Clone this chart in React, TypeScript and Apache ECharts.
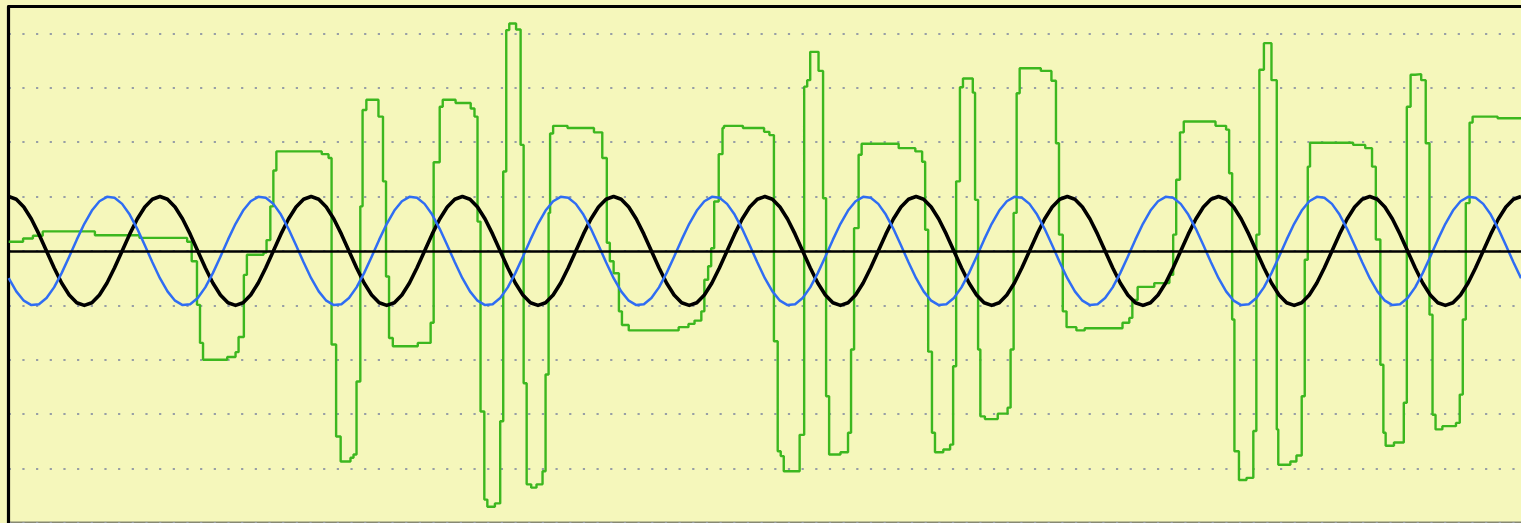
import React, { useEffect, useRef } from "react";
import * as echarts from "echarts";

// Time axis in milliseconds (10 cycles of a 50 Hz signal), 1 ms sampling
const SAMPLE_MS = [
  0, 1, 2, 3, 4, 5, 6, 7, 8, 9, 10, 11, 12, 13, 14, 15, 16, 17, 18, 19,
  20, 21, 22, 23, 24, 25, 26, 27, 28, 29, 30, 31, 32, 33, 34, 35, 36, 37, 38, 39,
  40, 41, 42, 43, 44, 45, 46, 47, 48, 49, 50, 51, 52, 53, 54, 55, 56, 57, 58, 59,
  60, 61, 62, 63, 64, 65, 66, 67, 68, 69, 70, 71, 72, 73, 74, 75, 76, 77, 78, 79,
  80, 81, 82, 83, 84, 85, 86, 87, 88, 89, 90, 91, 92, 93, 94, 95, 96, 97, 98, 99,
  100, 101, 102, 103, 104, 105, 106, 107, 108, 109, 110, 111, 112, 113, 114, 115, 116, 117, 118, 119,
  120, 121, 122, 123, 124, 125, 126, 127, 128, 129, 130, 131, 132, 133, 134, 135, 136, 137, 138, 139,
  140, 141, 142, 143, 144, 145, 146, 147, 148, 149, 150, 151, 152, 153, 154, 155, 156, 157, 158, 159,
  160, 161, 162, 163, 164, 165, 166, 167, 168, 169, 170, 171, 172, 173, 174, 175, 176, 177, 178, 179,
  180, 181, 182, 183, 184, 185, 186, 187, 188, 189, 190, 191, 192, 193, 194, 195, 196, 197, 198, 199,
  200,
];

// Reference sine (black)
const BLACK_WAVE = [
  1, 0.951, 0.809, 0.588, 0.309, 0, -0.309, -0.588, -0.809, -0.951, -1, -0.951, -0.809, -0.588, -0.309, 0, 0.309, 0.588, 0.809, 0.951,
  1, 0.951, 0.809, 0.588, 0.309, 0, -0.309, -0.588, -0.809, -0.951, -1, -0.951, -0.809, -0.588, -0.309, 0, 0.309, 0.588, 0.809, 0.951,
  1, 0.951, 0.809, 0.588, 0.309, 0, -0.309, -0.588, -0.809, -0.951, -1, -0.951, -0.809, -0.588, -0.309, 0, 0.309, 0.588, 0.809, 0.951,
  1, 0.951, 0.809, 0.588, 0.309, 0, -0.309, -0.588, -0.809, -0.951, -1, -0.951, -0.809, -0.588, -0.309, 0, 0.309, 0.588, 0.809, 0.951,
  1, 0.951, 0.809, 0.588, 0.309, 0, -0.309, -0.588, -0.809, -0.951, -1, -0.951, -0.809, -0.588, -0.309, 0, 0.309, 0.588, 0.809, 0.951,
  1, 0.951, 0.809, 0.588, 0.309, 0, -0.309, -0.588, -0.809, -0.951, -1, -0.951, -0.809, -0.588, -0.309, 0, 0.309, 0.588, 0.809, 0.951,
  1, 0.951, 0.809, 0.588, 0.309, 0, -0.309, -0.588, -0.809, -0.951, -1, -0.951, -0.809, -0.588, -0.309, 0, 0.309, 0.588, 0.809, 0.951,
  1, 0.951, 0.809, 0.588, 0.309, 0, -0.309, -0.588, -0.809, -0.951, -1, -0.951, -0.809, -0.588, -0.309, 0, 0.309, 0.588, 0.809, 0.951,
  1, 0.951, 0.809, 0.588, 0.309, 0, -0.309, -0.588, -0.809, -0.951, -1, -0.951, -0.809, -0.588, -0.309, 0, 0.309, 0.588, 0.809, 0.951,
  1, 0.951, 0.809, 0.588, 0.309, 0, -0.309, -0.588, -0.809, -0.951, -1, -0.951, -0.809, -0.588, -0.309, 0, 0.309, 0.588, 0.809, 0.951,
  1,
];

// Shifted sine (blue)
const BLUE_WAVE = [
  -0.5, -0.743, -0.914, -0.995, -0.978, -0.866, -0.669, -0.407, -0.105, 0.208, 0.5, 0.743, 0.914, 0.995, 0.978, 0.866, 0.669, 0.407, 0.105, -0.208,
  -0.5, -0.743, -0.914, -0.995, -0.978, -0.866, -0.669, -0.407, -0.105, 0.208, 0.5, 0.743, 0.914, 0.995, 0.978, 0.866, 0.669, 0.407, 0.105, -0.208,
  -0.5, -0.743, -0.914, -0.995, -0.978, -0.866, -0.669, -0.407, -0.105, 0.208, 0.5, 0.743, 0.914, 0.995, 0.978, 0.866, 0.669, 0.407, 0.105, -0.208,
  -0.5, -0.743, -0.914, -0.995, -0.978, -0.866, -0.669, -0.407, -0.105, 0.208, 0.5, 0.743, 0.914, 0.995, 0.978, 0.866, 0.669, 0.407, 0.105, -0.208,
  -0.5, -0.743, -0.914, -0.995, -0.978, -0.866, -0.669, -0.407, -0.105, 0.208, 0.5, 0.743, 0.914, 0.995, 0.978, 0.866, 0.669, 0.407, 0.105, -0.208,
  -0.5, -0.743, -0.914, -0.995, -0.978, -0.866, -0.669, -0.407, -0.105, 0.208, 0.5, 0.743, 0.914, 0.995, 0.978, 0.866, 0.669, 0.407, 0.105, -0.208,
  -0.5, -0.743, -0.914, -0.995, -0.978, -0.866, -0.669, -0.407, -0.105, 0.208, 0.5, 0.743, 0.914, 0.995, 0.978, 0.866, 0.669, 0.407, 0.105, -0.208,
  -0.5, -0.743, -0.914, -0.995, -0.978, -0.866, -0.669, -0.407, -0.105, 0.208, 0.5, 0.743, 0.914, 0.995, 0.978, 0.866, 0.669, 0.407, 0.105, -0.208,
  -0.5, -0.743, -0.914, -0.995, -0.978, -0.866, -0.669, -0.407, -0.105, 0.208, 0.5, 0.743, 0.914, 0.995, 0.978, 0.866, 0.669, 0.407, 0.105, -0.208,
  -0.5, -0.743, -0.914, -0.995, -0.978, -0.866, -0.669, -0.407, -0.105, 0.208, 0.5, 0.743, 0.914, 0.995, 0.978, 0.866, 0.669, 0.407, 0.105, -0.208,
  -0.5,
];

// Stepped control signal (green): each level holds from its time until the next one
const GREEN_MS = [
  0, 1.9, 3.2, 4.5, 11.4, 17.3, 23.6, 24.2, 24.9, 25.3,
  25.7, 28.9, 30.0, 30.4, 31.1, 31.5, 33.7, 34.1, 34.6, 35.0,
  35.4, 41.4, 42.3, 42.7, 43.3, 43.9, 45.2, 45.6, 46.0, 46.5,
  46.8, 47.3, 48.9, 49.5, 49.9, 50.3, 50.8, 54.1, 55.8, 56.2,
  57.0, 57.4, 59.1, 61.1, 61.6, 62.0, 62.4, 62.9, 63.3, 64.3,
  65.0, 65.4, 65.8, 66.2, 67.1, 67.7, 68.1, 68.5, 69.1, 69.8,
  70.6, 71.0, 71.4, 71.6, 72.0, 73.9, 77.4, 78.5, 79.1, 79.5,
  80.0, 80.7, 81.1, 82.0, 88.6, 89.9, 90.7, 91.6, 92.0, 92.5,
  92.9, 93.3, 93.9, 94.4, 94.6, 97.1, 99.9, 100.6, 101.2, 101.7,
  102.1, 102.5, 104.6, 105.2, 105.6, 106.0, 107.1, 107.7, 108.1, 108.5,
  110.0, 111.0, 111.4, 111.8, 112.4, 112.8, 117.7, 119.9, 120.8, 121.2,
  121.6, 122.1, 122.5, 123.6, 124.5, 124.9, 125.3, 125.8, 126.2, 127.5,
  127.8, 128.2, 128.5, 129.1, 130.8, 132.1, 132.5, 132.9, 133.3, 133.7,
  136.5, 137.9, 138.5, 138.9, 139.4, 139.9, 141.2, 142.3, 147.3, 148.2,
  148.6, 149.3, 151.5, 153.5, 154.0, 154.4, 154.9, 155.4, 159.6, 161.0,
  161.4, 161.8, 162.1, 162.7, 163.7, 164.6, 165.0, 165.4, 166.0, 167.0,
  167.7, 167.9, 169.5, 170.3, 171.0, 171.4, 171.8, 172.1, 177.8, 179.4,
  180.3, 180.8, 181.4, 181.8, 182.1, 183.2, 184.5, 184.9, 185.4, 186.0,
  186.8, 187.4, 187.9, 188.3, 188.7, 189.6, 191.4, 191.9, 192.3, 192.7,
  193.2, 193.6, 196.9, 200,
];

const GREEN_LEVEL = [
  0.17, 0.23, 0.28, 0.36, 0.29, 0.24, 0.17, -0.19, -0.99, -1.69,
  -2.0, -1.95, -1.86, -1.58, -0.44, -0.07, -0.03, 0.2, 0.82, 1.48,
  1.83, 1.78, 1.71, -1.72, -3.41, -3.87, -3.8, -3.74, -2.4, 0.82,
  2.59, 2.78, 2.47, 1.28, -0.47, -1.6, -1.75, -1.69, -1.32, 1.63,
  2.65, 2.78, 2.72, 2.62, 2.47, 0.54, -2.95, -4.57, -4.7, -4.64,
  -3.13, 1.46, 4.06, 4.18, 4.07, 1.95, -2.43, -4.29, -4.35, -4.29,
  -4.05, -2.27, 0.7, 2.16, 2.3, 2.26, 2.18, 1.71, 0.15, -0.19,
  -0.41, -1.11, -1.36, -1.46, -1.4, -1.34, -1.28, -1.11, -0.53, -0.28,
  0.05, 0.91, 1.78, 2.26, 2.3, 2.26, 2.19, 2.13, -1.66, -3.68,
  -3.77, -4.05, -3.38, 3.02, 3.14, 3.66, 3.31, 0.97, -2.67, -3.74,
  -3.7, -3.34, -1.81, 0.42, 1.77, 1.97, 1.89, 1.83, 1.64, 0.39,
  -1.85, -3.34, -3.7, -3.65, -3.56, -2.12, 1.28, 3.01, 3.17, 2.91,
  0.94, -1.81, -3.04, -3.09, -2.99, -2.88, -1.81, 0.7, 2.9, 3.36,
  3.31, 3.13, 1.98, 0.3, -1.11, -1.4, -1.46, -1.42, -1.32, -1.23,
  -0.9, -0.66, -0.59, -0.44, 0.3, 1.31, 2.18, 2.38, 2.3, 2.23,
  1.43, -1.26, -3.68, -4.21, -4.17, -3.31, 0.3, 3.33, 3.82, 3.14,
  -3.28, -3.93, -3.87, -3.76, -2.67, -0.16, 1.55, 1.99, 1.95, 1.89,
  1.55, 0.21, -2.09, -3.34, -3.58, -3.52, -2.79, 2.65, 3.24, 3.25,
  3.14, 1.98, -1.17, -3.01, -3.28, -3.22, -3.16, -2.64, -1.26, 0.88,
  2.36, 2.47, 2.44, 2.44,
];

const BG = "#f5f7bb";

export default function App() {
  const ref = useRef<HTMLDivElement>(null);

  useEffect(() => {
    document.body.style.margin = "0";
    document.body.style.background = BG;
    const chart = echarts.init(ref.current as HTMLDivElement, null, { renderer: "svg" });

    const black = SAMPLE_MS.map((t, i) => [t, BLACK_WAVE[i]]);
    const blue = SAMPLE_MS.map((t, i) => [t, BLUE_WAVE[i]]);
    const green = GREEN_MS.map((t, i) => [t, GREEN_LEVEL[i]]);

    chart.setOption({
      animation: false,
      backgroundColor: BG,
      grid: { left: 8.7, top: 6.7, width: 1520, height: 516.8, containLabel: false },
      xAxis: [
        {
          type: "value",
          min: 0,
          max: 200,
          axisLine: { show: false },
          axisTick: { show: false },
          axisLabel: { show: false },
          splitLine: { show: false },
        },
        {
          type: "value",
          position: "top",
          min: 0,
          max: 200,
          axisLine: { show: true, onZero: false, lineStyle: { color: "#000", width: 3 } },
          axisTick: { show: false },
          axisLabel: { show: false },
          splitLine: { show: false },
        },
      ],
      yAxis: {
        type: "value",
        min: -5,
        max: 4.49,
        interval: 1,
        axisLine: { show: true, onZero: false, lineStyle: { color: "#000", width: 3.2 } },
        axisTick: { show: false },
        axisLabel: { show: false },
        splitLine: {
          show: true,
          lineStyle: { color: "#979ea6", width: 2.2, type: [2.2, 11.47] },
        },
      },
      graphic: [
        {
          type: "rect",
          shape: { x: 8.7, y: 521.6, width: 1520, height: 1.4 },
          style: { fill: "#868872" },
          silent: true,
        },
      ],
      series: [
        {
          type: "line",
          name: "green",
          data: green,
          step: "end",
          showSymbol: false,
          symbol: "none",
          lineStyle: { color: "#3cb71f", width: 2.4 },
          z: 2,
        },
        {
          type: "line",
          name: "black",
          data: black,
          smooth: false,
          showSymbol: false,
          symbol: "none",
          lineStyle: { color: "#000000", width: 3.6, join: "round" },
          z: 3,
        },
        {
          type: "line",
          name: "blue",
          data: blue,
          smooth: false,
          showSymbol: false,
          symbol: "none",
          lineStyle: { color: "#2f6df3", width: 2.5, join: "round" },
          z: 4,
          markLine: {
            silent: true,
            symbol: ["none", "none"],
            label: { show: false },
            lineStyle: { color: "#000", width: 2.6, type: "solid" },
            data: [{ yAxis: 0 }],
          },
        },
      ],
    });

    return () => chart.dispose();
  }, []);

  return (
    <div
      ref={ref}
      style={{ position: "fixed", left: 0, top: 0, width: 1521, height: 523, background: BG }}
    />
  );
}
